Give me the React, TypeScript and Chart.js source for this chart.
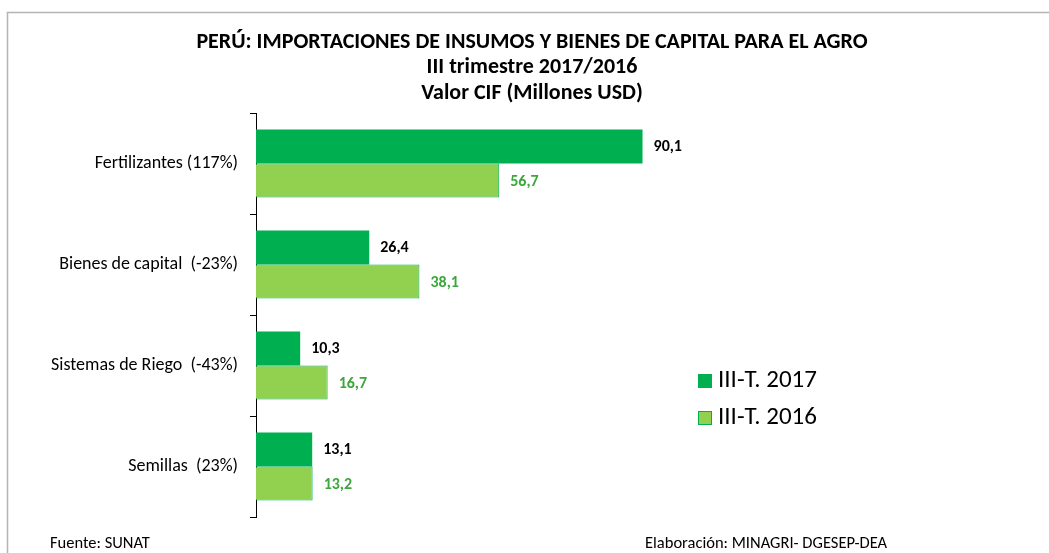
import React, { useEffect, useRef } from "react";
import { Chart, registerables } from "chart.js";

Chart.register(...registerables);

const categories = [
  "Fertilizantes (117%)",
  "Bienes de capital  (-23%)",
  "Sistemas de Riego  (-43%)",
  "Semillas  (23%)",
];
const seriesNames = ["III-T. 2017", "III-T. 2016"];
const values2017 = [90.1, 26.4, 10.3, 13.1];
const values2016 = [56.7, 38.1, 16.7, 13.2];
const titleLines = [
  "PERÚ: IMPORTACIONES DE INSUMOS Y BIENES DE CAPITAL PARA EL AGRO",
  "III trimestre 2017/2016",
  "Valor CIF (Millones USD)",
];
const sourceText = "Fuente: SUNAT";
const creditText = "Elaboración: MINAGRI- DGESEP-DEA";

const FONT = "Carlito, Calibri, Lato, sans-serif";
const C2017 = "#00B050";
const C2016 = "#92D050";
const LABEL2016 = "#3DA63D";

const decorPlugin = {
  id: "decor",
  beforeDraw(chart: any) {
    const ctx = chart.ctx as CanvasRenderingContext2D;
    ctx.save();
    ctx.fillStyle = "#ffffff";
    ctx.fillRect(0, 0, chart.width, chart.height);
    ctx.strokeStyle = "#B4B4B4";
    ctx.lineWidth = 1.5;
    ctx.beginPath();
    ctx.moveTo(7.5, chart.height);
    ctx.lineTo(7.5, 12.5);
    ctx.lineTo(chart.width, 12.5);
    ctx.stroke();
    ctx.restore();
  },
  afterDraw(chart: any) {
    const ctx = chart.ctx as CanvasRenderingContext2D;
    ctx.save();
    // title
    ctx.fillStyle = "#000000";
    ctx.textAlign = "center";
    ctx.textBaseline = "middle";
    ctx.font = `bold 22px ${FONT}`;
    const ty = [42, 67, 93];
    titleLines.forEach((t, i) => ctx.fillText(t, 532, ty[i]));
    // legend
    const colors = [C2017, C2016];
    const ly = [381, 418];
    chart.data.datasets.forEach((ds: any, i: number) => {
      ctx.fillStyle = colors[i];
      ctx.fillRect(698, ly[i] - 7, 14, 14);
      if (i === 1) {
        ctx.strokeStyle = C2017;
        ctx.lineWidth = 1;
        ctx.strokeRect(698.5, ly[i] - 6.5, 13, 13);
      }
      ctx.fillStyle = "#000000";
      ctx.textAlign = "left";
      ctx.font = `25px ${FONT}`;
      ctx.fillText(ds.label, 718, ly[i]);
    });
    // footer
    ctx.font = `16.5px ${FONT}`;
    ctx.textAlign = "left";
    ctx.fillText(sourceText, 50, 544);
    ctx.fillText(creditText, 645, 544);
    ctx.restore();
  },
};

const valueLabelPlugin = {
  id: "valueLabels",
  afterDatasetsDraw(chart: any) {
    const ctx = chart.ctx as CanvasRenderingContext2D;
    ctx.save();
    ctx.font = `bold 16px ${FONT}`;
    ctx.textAlign = "left";
    ctx.textBaseline = "middle";
    chart.data.datasets.forEach((ds: any, di: number) => {
      const meta = chart.getDatasetMeta(di);
      ctx.fillStyle = di === 0 ? "#000000" : LABEL2016;
      meta.data.forEach((el: any, i: number) => {
        const v = ds.data[i] as number;
        ctx.fillText(v.toFixed(1).replace(".", ","), el.x + 11, el.y + 1);
      });
    });
    ctx.restore();
  },
};

export default function App() {
  const ref = useRef<HTMLCanvasElement>(null);
  useEffect(() => {
    if (!ref.current) return;
    const chart = new Chart(ref.current, {
      type: "bar",
      data: {
        labels: categories,
        datasets: [
          {
            label: seriesNames[0],
            data: values2017,
            backgroundColor: C2017,
            borderColor: C2017,
            borderWidth: 0,
            barPercentage: 1,
            categoryPercentage: 0.675,
          },
          {
            label: seriesNames[1],
            data: values2016,
            backgroundColor: C2016,
            borderColor: C2017,
            borderWidth: 1,
            barPercentage: 1,
            categoryPercentage: 0.675,
          },
        ],
      },
      options: {
        indexAxis: "y",
        responsive: false,
        animation: false,
        layout: { padding: { top: 113, bottom: 36, right: 364, left: 0 } },
        plugins: {
          legend: { display: false },
          title: { display: false },
          tooltip: { enabled: false },
        },
        scales: {
          x: { display: false, min: 0, max: 100 },
          y: {
            afterFit(scale: any) {
              scale.width = 256;
            },
            border: { display: true, color: "#000000", width: 1 },
            grid: {
              display: true,
              offset: true,
              drawOnChartArea: false,
              drawTicks: true,
              tickLength: 6,
              color: "#000000",
            },
            ticks: {
              color: "#000000",
              padding: 12,
              font: { family: FONT, size: 18 },
            },
          },
        },
      },
      plugins: [decorPlugin, valueLabelPlugin],
    });
    return () => chart.destroy();
  }, []);
  return (
    <div style={{ position: "absolute", left: 0, top: 0, width: 1049, height: 553 }}>
      <canvas ref={ref} width={1049} height={553} />
    </div>
  );
}
